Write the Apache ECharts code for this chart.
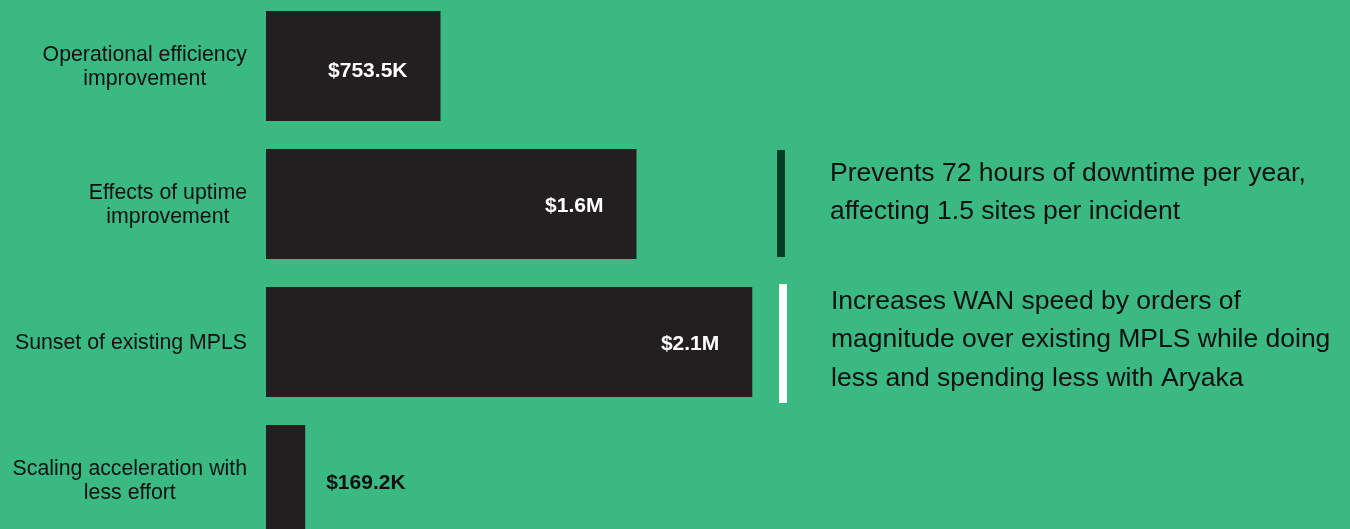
<!DOCTYPE html>
<html>
<head>
<meta charset="utf-8">
<script src="https://cdn.jsdelivr.net/npm/echarts@6/dist/echarts.min.js"></script>
<style>
  html, body { margin: 0; padding: 0; background: #3bb983; overflow: hidden; width: 1350px; height: 529px; position: relative; }
  /* The plot runs past the bottom edge, so the last bar is clipped */
  #chart { position: absolute; left: 0; top: -3px; width: 1350px; height: 552px; }
</style>
</head>
<body>
<div id="chart"></div>
<script>
// Benefit categories, top to bottom
const categories = [
  'Operational efficiency\nimprovement',
  'Effects of uptime\nimprovement',
  'Sunset of existing MPLS',
  'Scaling acceleration with\nless effort'
];
// Annual benefit in dollars
const values = [753500, 1600000, 2100000, 169200];

// Side notes attached to individual bars
const noteCategories = ['Effects of uptime\nimprovement', 'Sunset of existing MPLS'];
const noteTexts = [
  'Prevents 72 hours of downtime per year,\naffecting 1.5 sites per incident',
  'Increases WAN speed by orders of\nmagnitude over existing MPLS while doing\nless and spending less with Aryaka'
];
const noteBarColors = ['#003d27', '#ffffff'];

const FONT = '"Liberation Sans", Arial, Helvetica, sans-serif';

function money(v) {
  return v >= 1e6 ? '$' + (v / 1e6).toFixed(1) + 'M' : '$' + (v / 1e3).toFixed(1) + 'K';
}

const chart = echarts.init(document.getElementById('chart'), null, { renderer: 'canvas' });

const seriesData = values.map(function (v, i) {
  const item = { value: v };
  if (i === 0) {
    item.label = { offset: [0, 5] };
  }
  // The short bar carries its label outside
  if (v < 300000) {
    item.label = { position: 'right', distance: 21, color: '#111111', offset: [0, 3] };
  }
  return item;
});

chart.setOption({
  backgroundColor: '#3bb983',
  animation: false,
  grid: { left: 266, right: 42, top: 0, bottom: 0, containLabel: false, outerBoundsMode: 'none' },
  xAxis: {
    type: 'value',
    min: 0,
    max: 4500000,
    show: false
  },
  yAxis: {
    type: 'category',
    inverse: true,
    data: categories,
    axisLine: { show: false },
    axisTick: { show: false },
    splitLine: { show: false },
    axisLabel: {
      align: 'right',
      margin: 19,
      padding: [3, 0, 0, 0],
      formatter: function (val) {
        return val.split('\n').map(function (l) { return '{c|' + l + '}'; }).join('\n');
      },
      rich: {
        c: {
          align: 'center',
          fontFamily: FONT,
          fontSize: 21.3,
          lineHeight: 24,
          color: '#111111'
        }
      }
    }
  },
  series: [{
    type: 'bar',
    data: seriesData,
    barWidth: 110,
    itemStyle: { color: '#231f20' },
    label: {
      show: true,
      position: 'insideRight',
      distance: 33,
      offset: [0, 2],
      color: '#ffffff',
      fontFamily: FONT,
      fontSize: 21,
      fontWeight: 'bold',
      formatter: function (p) { return money(p.value); }
    }
  }]
});

// Notes: a vertical rule and a text block beside the referenced bar
const lineSpecs = [
  { x: 777, w: 8, h: 107, dy: -0.5 },
  { x: 779, w: 8, h: 119, dy: 1.5 }
];
const textSpecs = [
  { x: 830, dy: -11.5, lh: 37.5 },
  { x: 831, dy: -2, lh: 38.5 }
];
const graphics = [];
noteCategories.forEach(function (cat, i) {
  const cy = chart.convertToPixel({ yAxisIndex: 0 }, cat);
  const ls = lineSpecs[i];
  const ts = textSpecs[i];
  graphics.push({
    type: 'rect',
    shape: { x: ls.x, y: cy + ls.dy - ls.h / 2, width: ls.w, height: ls.h },
    style: { fill: noteBarColors[i] },
    silent: true
  });
  graphics.push({
    type: 'text',
    x: ts.x,
    y: cy + ts.dy,
    style: {
      text: noteTexts[i],
      fontFamily: FONT,
      fontSize: 26.5,
      lineHeight: ts.lh,
      fill: '#111111',
      align: 'left',
      verticalAlign: 'middle'
    },
    silent: true
  });
});
chart.setOption({ graphic: graphics });
</script>
</body>
</html>
